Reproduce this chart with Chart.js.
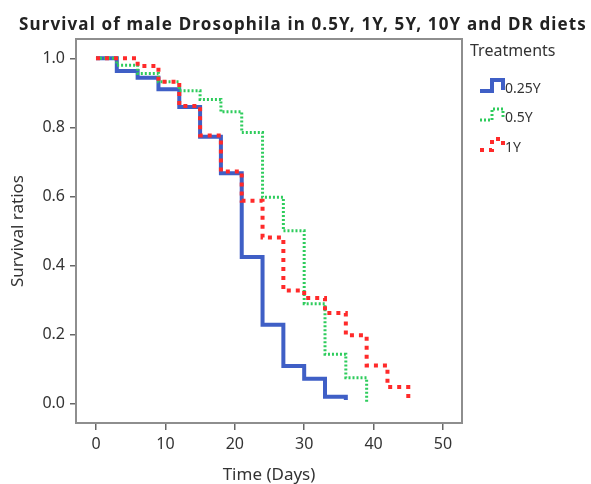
<!DOCTYPE html>
<html>
<head>
<meta charset="utf-8">
<script src="https://cdn.jsdelivr.net/npm/chart.js@4.4.1/dist/chart.umd.min.js"></script>
<style>
body{margin:0;background:#fff;}
</style>
</head>
<body>
<canvas id="survivalChart" width="591" height="484"></canvas>
<script>
// Kaplan-Meier style curves: day of each step and survival ratio after it
const daysQuarterY=[0,3,6,9,12,15,18,21,24,27,30,33,36]
const survQuarterY=[1,0.963,0.944,0.910,0.859,0.773,0.667,0.424,0.228,0.108,0.071,0.019,0.01]

const daysHalfY=[0,3,6,9,12,15,18,21,24,27,30,33,36,39]
const survHalfY=[1,0.98,0.956,0.932,0.906,0.881,0.845,0.785,0.597,0.50,0.289,0.142,0.074,0.0]

const daysOneY=[0,6,9,12,15,18,21,24,27,30,33,36,39,42,45]
const survOneY=[1,0.978,0.932,0.862,0.776,0.672,0.587,0.481,0.327,0.305,0.262,0.197,0.110,0.047,0.004]

const treatmentNames=['0.25Y','0.5Y','1Y']
const xTickValues=[0,10,20,30,40,50]
const yTickValues=[0,0.2,0.4,0.6,0.8,1.0]

const chartTitle='Survival of male Drosophila in 0.5Y, 1Y, 5Y, 10Y and DR diets'
const legendTitle='Treatments'

const toPoints=(days,surv)=>days.map((d,i)=>({x:d,y:surv[i]}))

const fontFamily='"Noto Sans", "DejaVu Sans", sans-serif'
const textColor='#333'

// frame, title and legend are drawn here (SPSS look)
const extrasPlugin={
    id:'extras',
    beforeDatasetsDraw(chart){
        const {ctx,chartArea}=chart
        ctx.save()
        ctx.strokeStyle='#8e8e8e'
        ctx.lineWidth=2
        ctx.strokeRect(chartArea.left,chartArea.top,chartArea.right-chartArea.left,chartArea.bottom-chartArea.top)
        ctx.restore()
    },
    afterDraw(chart){
        const {ctx}=chart
        ctx.save()
        // title
        ctx.fillStyle='#222'
        ctx.font='bold 17px '+fontFamily
        ctx.letterSpacing='1.15px'
        ctx.textAlign='center'
        ctx.textBaseline='alphabetic'
        ctx.fillText(chartTitle,303,30)
        ctx.letterSpacing='0px'

        // legend
        ctx.fillStyle=textColor
        ctx.textAlign='left'
        ctx.textBaseline='middle'
        ctx.font='16px '+fontFamily
        ctx.fillText(legendTitle,470,51)

        const centers=[89,118,148]
        chart.data.datasets.forEach((ds,i)=>{
            const c=centers[i]
            ctx.save()
            ctx.strokeStyle=ds.borderColor
            ctx.lineWidth=ds.borderWidth
            ctx.setLineDash(ds.borderDash||[])
            ctx.beginPath()
            ctx.moveTo(480,c+2)
            ctx.lineTo(492,c+2)
            ctx.lineTo(492,c-9)
            ctx.lineTo(503,c-9)
            ctx.lineTo(503,c+1)
            ctx.stroke()
            ctx.restore()
            ctx.fillStyle=textColor
            ctx.font='14px '+fontFamily
            ctx.fillText(ds.label,505,c)
        })
        ctx.restore()
    }
}

const survivalCtx=document.getElementById('survivalChart').getContext('2d')

const survivalChart=new Chart(survivalCtx,{
    type:'line',
    data:{
        datasets:[
            {
                label:treatmentNames[0],
                data:toPoints(daysQuarterY,survQuarterY),
                borderColor:'#3f5fc6',
                borderWidth:4,
                stepped:true,
                order:2
            },
            {
                label:treatmentNames[1],
                data:toPoints(daysHalfY,survHalfY),
                borderColor:'#2ecc5c',
                borderWidth:3,
                borderDash:[2,2],
                stepped:true,
                order:1
            },
            {
                label:treatmentNames[2],
                data:toPoints(daysOneY,survOneY),
                borderColor:'#ff2a2a',
                borderWidth:4,
                borderDash:[4,5],
                stepped:true,
                order:0
            }
        ]
    },
    options:{
        responsive:false,
        animation:false,
        layout:{padding:{top:39,right:129,left:0,bottom:0}},
        elements:{point:{radius:0},line:{tension:0,fill:false}},
        plugins:{
            legend:{display:false},
            title:{display:false},
            tooltip:{enabled:false}
        },
        scales:{
            x:{
                type:'linear',
                min:-2.88,
                max:52.74,
                afterBuildTicks:(scale)=>{scale.ticks=xTickValues.map(v=>({value:v}))},
                afterFit:(scale)=>{scale.height=61},
                border:{display:false},
                grid:{drawOnChartArea:false,drawTicks:true,tickLength:7,color:'#666',lineWidth:1.5},
                ticks:{
                    color:textColor,
                    font:{family:fontFamily,size:16},
                    padding:5,
                    maxRotation:0,
                    callback:(v)=>v.toString()
                },
                title:{
                    display:true,
                    text:'Time (Days)',
                    color:textColor,
                    font:{family:fontFamily,size:17,lineHeight:1},
                    padding:{top:0,bottom:0}
                }
            },
            y:{
                min:-0.057,
                max:1.056,
                afterBuildTicks:(scale)=>{scale.ticks=yTickValues.map(v=>({value:v}))},
                afterFit:(scale)=>{scale.width=76},
                border:{display:false},
                grid:{drawOnChartArea:false,drawTicks:true,tickLength:6,color:'#666',lineWidth:1.5},
                ticks:{
                    color:textColor,
                    font:{family:fontFamily,size:16},
                    padding:5,
                    callback:(v)=>v.toFixed(1)
                },
                title:{
                    display:true,
                    text:'Survival ratios',
                    color:textColor,
                    font:{family:fontFamily,size:17,lineHeight:1.2},
                    padding:{top:8,bottom:0}
                }
            }
        }
    },
    plugins:[extrasPlugin]
})
</script>
</body>
</html>
